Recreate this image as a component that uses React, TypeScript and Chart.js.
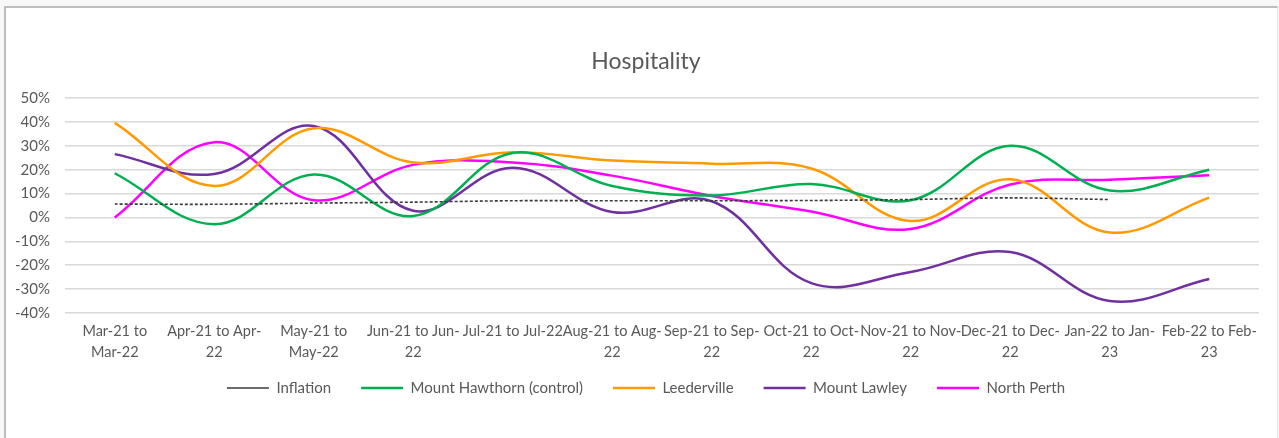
import React, { useEffect, useRef } from "react";
import { Chart, registerables } from "chart.js";

Chart.register(...registerables);

const categories: (string | string[])[] = [
  ["Mar-21 to", "Mar-22"],
  ["Apr-21 to Apr-", "22"],
  ["May-21 to", "May-22"],
  ["Jun-21 to Jun-", "22"],
  "Jul-21 to Jul-22",
  ["Aug-21 to Aug-", "22"],
  ["Sep-21 to Sep-", "22"],
  ["Oct-21 to Oct-", "22"],
  ["Nov-21 to Nov-", "22"],
  ["Dec-21 to Dec-", "22"],
  ["Jan-22 to Jan-", "23"],
  ["Feb-22 to Feb-", "23"],
];

const inflation = [5.6, 5.5, 6.0, 6.4, 7.0, 7.0, 7.0, 7.1, 7.5, 8.2, 7.5, null];
const mountHawthorn = [18.5, -2.8, 18, 0.6, 27, 13.2, 9.2, 14, 7.2, 30, 11.3, 20];
const leederville = [39.6, 13.2, 37.3, 23, 27.3, 23.8, 22.5, 20.5, -1.5, 16, -6.3, 8.3];
const mountLawley = [26.5, 18.2, 38.3, 2.8, 20.8, 2.3, 6.8, -27.5, -22.8, -14.5, -35, -25.8];
const northPerth = [0, 31.5, 7.2, 22, 23, 17.5, 9, 2.5, -4.8, 13.8, 15.8, 17.7];

const yTicks = [-40, -30, -20, -10, 0, 10, 20, 30, 40, 50];

const FONT = "Lato, 'Open Sans', sans-serif";
const TEXT = "#595959";

export default function App() {
  const ref = useRef<HTMLCanvasElement | null>(null);

  useEffect(() => {
    if (!ref.current) return;
    const line = (label: string, data: (number | null)[], color: string, extra: any = {}) => ({
      label,
      data,
      borderColor: color,
      backgroundColor: color,
      borderWidth: 2.5,
      pointRadius: 0,
      pointHoverRadius: 0,
      pointStyle: "line",
      tension: 0.38,
      fill: false,
      ...extra,
    });
    const chart = new Chart(ref.current, {
      type: "line",
      data: {
        labels: categories,
        datasets: [
          line("Inflation", inflation, "#3a3a3a", { borderWidth: 1.6, borderDash: [3, 2], tension: 0.3 }),
          line("Mount Hawthorn (control)", mountHawthorn, "#00B050"),
          line("Leederville", leederville, "#FF9A00"),
          line("Mount Lawley", mountLawley, "#7030A0"),
          line("North Perth", northPerth, "#FF00FF"),
        ],
      },
      options: {
        animation: false,
        responsive: false,
        maintainAspectRatio: false,
        layout: { padding: { left: 13, right: 0, top: 0, bottom: 32.5 } },
        plugins: {
          title: {
            display: true,
            text: "Hospitality",
            color: TEXT,
            font: { family: FONT, size: 23, weight: "normal", lineHeight: 1.2 },
            padding: { top: 48.2, bottom: 22.2 },
          },
          legend: {
            position: "bottom",
            labels: {
              usePointStyle: true,
              pointStyleWidth: 42,
              color: TEXT,
              font: { family: FONT, size: 15 },
              padding: 18.5,
              generateLabels: (c: any) => {
                const items = Chart.defaults.plugins.legend.labels.generateLabels(c);
                return items.map((it: any, i: number) =>
                  i < items.length - 1 ? { ...it, text: it.text + "   " } : it
                );
              },
            },
          },
          tooltip: { enabled: false },
        },
        scales: {
          x: {
            offset: true,
            grid: { display: false, drawTicks: false },
            border: { display: false },
            ticks: {
              color: TEXT,
              font: { family: FONT, size: 14.5, lineHeight: 1.45 },
              padding: 7.5,
              autoSkip: false,
              maxRotation: 0,
              minRotation: 0,
            },
            afterFit: (s: any) => {
              s.height = 49;
            },
          },
          y: {
            min: yTicks[0],
            max: yTicks[yTicks.length - 1],
            grid: { color: "#D9D9D9", lineWidth: 1.5, drawTicks: false },
            border: { display: false },
            afterBuildTicks: (s: any) => {
              s.ticks = yTicks.map((v) => ({ value: v }));
            },
            ticks: {
              color: TEXT,
              font: { family: FONT, size: 15 },
              padding: 15,
              callback: (v: any) => `${v}%`,
            },
            afterFit: (s: any) => {
              s.width = 52;
            },
          },
          yRightSpace: {
            type: "linear",
            position: "right",
            display: true,
            grid: { display: false, drawTicks: false },
            border: { display: false },
            ticks: { display: false },
            afterFit: (s: any) => {
              s.width = 20;
            },
          },
        },
      },
    } as any);
    return () => chart.destroy();
  }, []);

  return (
    <div style={{ position: "fixed", left: 0, top: 0, width: 1279, height: 438, background: "#f7f7f7" }}>
      <div
        style={{
          position: "absolute",
          left: 4,
          top: 6,
          width: 1271,
          height: 440,
          background: "#ffffff",
          borderTop: "2px solid #bdbdbd",
          borderLeft: "2px solid #bdbdbd",
          borderRight: "1px solid #e2e2e2",
        }}
      />
      <canvas ref={ref} width={1279} height={438} style={{ position: "absolute", left: 0, top: 0 }} />
    </div>
  );
}
